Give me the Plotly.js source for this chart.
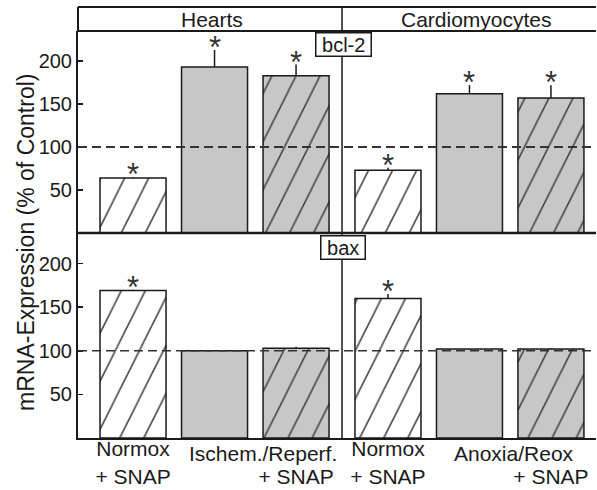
<!DOCTYPE html>
<html><head><meta charset="utf-8">
<script src="https://cdn.plot.ly/plotly-3.0.1.min.js"></script>
<style>html,body{margin:0;padding:0;background:#fff}#chart{width:597px;height:490px}</style>
</head><body><div id="chart"></div>
<script>
// ---- data ----
const heartsCats = ['Normox + SNAP', 'Ischem./Reperf.', 'Ischem./Reperf. + SNAP'];
const cardioCats = ['Normox + SNAP', 'Anoxia/Reox', 'Anoxia/Reox + SNAP'];
const heartsTicks = ['Normox<br>+ SNAP', '', '<br>+ SNAP'];
const cardioTicks = ['Normox<br>+ SNAP', '', '<br>+ SNAP'];
const groupLabels = ['Ischem./Reperf.', 'Anoxia/Reox'];
const panelTitles = ['Hearts', 'Cardiomyocytes'];
const geneLabels = ['bcl-2', 'bax'];
const yTitle = 'mRNA-Expression (% of Control)';
const bcl2Hearts = [64, 193, 183];
const bcl2HeartsErr = [1, 20, 13];
const bcl2Cardio = [73, 162, 157];
const bcl2CardioErr = [3, 10, 15];
const baxHearts = [169, 100, 103];
const baxHeartsErr = [1, 0, 1.5];
const baxCardio = [160, 102, 102];
const baxCardioErr = [5, 0, 0.5];
const bcl2HeartsSig = [true, true, true];
const bcl2CardioSig = [true, true, true];
const baxHeartsSig = [true, false, false];
const baxCardioSig = [true, false, false];
const controlLevel = 100;
const yTicks = [50, 100, 150, 200];

// ---- style ----
const INK = '#1a1a1a';
const GRAY = '#c7c7c7';
const fills = ['#ffffff', GRAY, GRAY];
const hatches = ['/', '', '/'];
const FONT = 'Liberation Sans, Arial, Helvetica, sans-serif';

function barTrace(xa, ya, cats, vals, errs) {
  return {
    type: 'bar', x: cats, y: vals, xaxis: xa, yaxis: ya,
    marker: {
      color: fills,
      line: {color: INK, width: 1.5},
      pattern: {shape: hatches, fillmode: 'overlay', fgcolor: INK, fgopacity: 1, size: 17, solidity: 0.075}
    },
    error_y: {type: 'data', symmetric: false, array: errs, arrayminus: errs.map(() => 0),
              color: INK, thickness: 1.5, width: 0},
    hoverinfo: 'skip'
  };
}

const data = [
  barTrace('x', 'y', heartsCats, bcl2Hearts, bcl2HeartsErr),
  barTrace('x2', 'y', cardioCats, bcl2Cardio, bcl2CardioErr),
  barTrace('x', 'y2', heartsCats, baxHearts, baxHeartsErr),
  barTrace('x2', 'y2', cardioCats, baxCardio, baxCardioErr)
];

const annotations = [];
function stars(xa, ya, cats, vals, errs, sig) {
  cats.forEach((c, i) => {
    if (!sig[i]) return;
    annotations.push({xref: xa, yref: ya, x: c, y: vals[i] + errs[i], text: '*',
      showarrow: false, xanchor: 'center', yanchor: 'bottom', yshift: -17,
      font: {family: FONT, size: 31, color: '#333'}});
  });
}
stars('x', 'y', heartsCats, bcl2Hearts, bcl2HeartsErr, bcl2HeartsSig);
stars('x2', 'y', cardioCats, bcl2Cardio, bcl2CardioErr, bcl2CardioSig);
stars('x', 'y2', heartsCats, baxHearts, baxHeartsErr, baxHeartsSig);
stars('x2', 'y2', cardioCats, baxCardio, baxCardioErr, baxCardioSig);

const XSPLIT = 0.5097, YSPLIT = 0.5037, YHEAD = 1.059;
const pa = {xref: 'paper', yref: 'paper', showarrow: false, xanchor: 'center'};
annotations.push(
  Object.assign({}, pa, {x: 0.2587, y: 1.0283, yanchor: 'middle', text: panelTitles[0], font: {size: 21}}),
  Object.assign({}, pa, {x: 0.770, y: 1.0283, yanchor: 'middle', text: panelTitles[1], font: {size: 21}}),
  Object.assign({}, pa, {x: 0.5116, y: 0.9975, yanchor: 'top', text: ' ' + geneLabels[0] + ' ',
   bgcolor: '#fff', bordercolor: INK, borderwidth: 1.5, borderpad: 0, font: {size: 20}}),
  Object.assign({}, pa, {x: 0.5116, y: 0.4988, yanchor: 'top', text: ' ' + geneLabels[1] + ' ',
   bgcolor: '#fff', bordercolor: INK, borderwidth: 1.5, borderpad: 0, font: {size: 20}}),
  {xref: 'x', yref: 'paper', x: 1.595, y: -0.005, xanchor: 'center', yanchor: 'top', text: groupLabels[0], showarrow: false, font: {size: 21}},
  {xref: 'x2', yref: 'paper', x: 1.546, y: -0.005, xanchor: 'center', yanchor: 'top', text: groupLabels[1], showarrow: false, font: {size: 21}},
  Object.assign({}, pa, {x: -0.1004, y: 0.4816, yanchor: 'middle', textangle: -90, text: yTitle, font: {size: 23}})
);

const ln = (x0, y0, x1, y1, w) => ({type: 'line', xref: 'paper', yref: 'paper', x0, y0, x1, y1,
  line: {color: INK, width: w}});
const shapes = [
  ln(0, YHEAD, 1, YHEAD, 2),
  ln(0, 1, 1, 1, 2),
  ln(0, 1, 0, YHEAD, 2),
  ln(XSPLIT, 0, XSPLIT, YHEAD, 1.5),
  ln(0, YSPLIT, 1, YSPLIT, 2.5),
  {type: 'line', xref: 'paper', yref: 'y', x0: 0, x1: 1, y0: controlLevel, y1: controlLevel,
   line: {color: '#333', width: 2, dash: '9px,5px'}},
  {type: 'line', xref: 'paper', yref: 'y2', x0: 0, x1: 1, y0: controlLevel, y1: controlLevel,
   line: {color: '#333', width: 1.5, dash: '9px,5px'}}
];

const xBase = {type: 'category', anchor: 'y2', tickmode: 'array', ticks: '', showline: true, linewidth: 2,
  linecolor: INK, showgrid: false, zeroline: false, fixedrange: true, tickfont: {size: 21},
  ticklabelstandoff: -9};
const yBase = {anchor: 'x', range: [0, 235], tickmode: 'array', tickvals: yTicks, ticks: 'inside', ticklen: 5,
  tickwidth: 1.5, tickcolor: INK, showline: true, linewidth: 2, linecolor: INK, showgrid: false,
  zeroline: false, fixedrange: true, tickfont: {size: 20}};

const layout = {
  width: 597, height: 490,
  margin: {l: 78, r: 1, t: 31, b: 52},
  paper_bgcolor: '#fff', plot_bgcolor: '#fff',
  showlegend: false, bargap: 0.19,
  font: {family: FONT, size: 20, color: INK},
  xaxis: Object.assign({}, xBase, {domain: [0, XSPLIT], range: [-0.675, 2.564], tickvals: heartsCats, ticktext: heartsTicks}),
  xaxis2: Object.assign({}, xBase, {domain: [XSPLIT, 1], range: [-0.564, 2.553], tickvals: cardioCats, ticktext: cardioTicks}),
  yaxis: Object.assign({}, yBase, {domain: [YSPLIT, 1]}),
  yaxis2: Object.assign({}, yBase, {domain: [0, YSPLIT]}),
  shapes, annotations
};

function steepen() {
  document.querySelectorAll('#chart pattern').forEach(p => p.setAttribute('patternTransform', 'scale(1,2)'));
}
const gd = document.getElementById('chart');
Plotly.newPlot(gd, data, layout, {staticPlot: true, displayModeBar: false}).then(() => {
  steepen();
  gd.on && gd.on('plotly_afterplot', steepen);
});
</script>
</body></html>
